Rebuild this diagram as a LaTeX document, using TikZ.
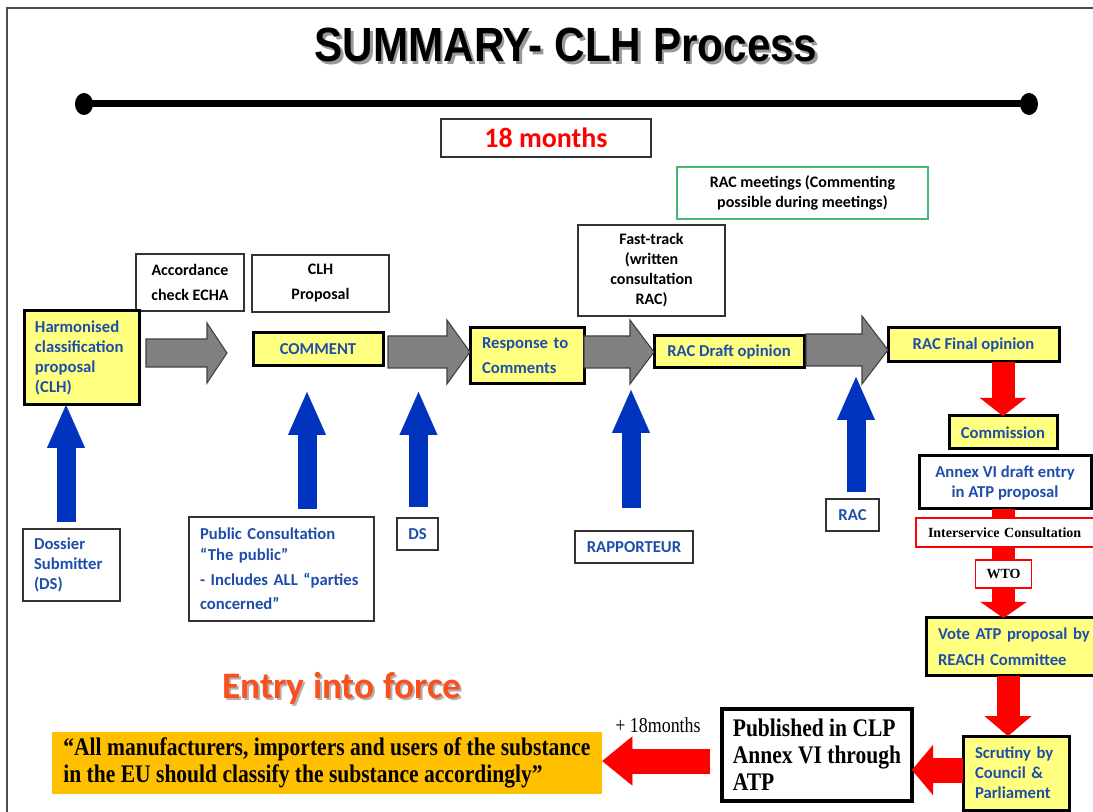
\documentclass[tikz,border=0pt]{standalone}
\usepackage{fontspec}
\setmainfont{Carlito}
\newfontfamily\titlefont[FakeStretch=0.88]{Liberation Sans}
\newfontfamily\timesc[FakeStretch=0.84]{Liberation Serif}
\newfontfamily\timescb[FakeStretch=0.85]{Liberation Serif Bold}
\newfontfamily\timesn{Liberation Serif}
\usetikzlibrary{arrows.meta,calc}
\definecolor{tblue}{RGB}{31,78,170}
\definecolor{ablue}{RGB}{0,51,190}
\definecolor{pyellow}{RGB}{255,255,128}
\definecolor{orng}{RGB}{255,192,0}
\definecolor{grn}{RGB}{70,185,110}
\definecolor{entryc}{RGB}{250,80,30}
\definecolor{garrow}{RGB}{128,128,128}
\newcommand\shadowtext[3]{\makebox[0pt][l]{\hspace{#1}\raisebox{-#1}[0pt][0pt]{\textcolor{#2}{#3}}}#3}
\tikzset{
  base/.style={inner sep=0pt, outer sep=0pt, font=\bfseries\fontsize{12.5}{15}\selectfont},
  sz/.style 2 args={minimum width=#1*0.75pt, minimum height=#2*0.75pt},
  ybox/.style={base, draw=black, line width=2.25pt, fill=pyellow, text=tblue},
  wbox/.style={base, draw=black!80, line width=1.1pt, fill=white},
  btext/.style={font=\bfseries\fontsize{12}{15}\selectfont},
  lbox/.style={wbox, text=tblue},
  rbox/.style={base, draw=red, line width=1.1pt, fill=white, font=\timesn\bfseries\fontsize{10.5}{12}\selectfont},
  bluearr/.style={draw=ablue, line width=14.25pt, -{Triangle[width=28.5pt,length=32.25pt,line width=0.1pt]}},
  redarr/.style n args={3}{draw=red, line width=#1, -{Triangle[width=#2,length=#3,line width=0.1pt]}},
  grayarr/.style={fill=garrow, draw=black!75, line width=0.8pt, line join=miter},
  bigquote/.style={font=\timescb\fontsize{19}{20.25}\selectfont},
}
\newcommand\grayarrow[6]{\draw[grayarr] (#1,#4-#5) -- (#2,#4-#5) -- (#2,#4-#6) -- (#3,#4) -- (#2,#4+#6) -- (#2,#4+#5) -- (#1,#4+#5) -- cycle;}
\begin{document}
\begin{tikzpicture}[x=0.75pt,y=-0.75pt]
\useasboundingbox[fill=white] (0,0) rectangle (1093,812);
% frame
\draw[line width=1.5pt, black!70] (6.5,812) -- (6.5,8.5) -- (1093,8.5);
% title
\node[font=\titlefont\bfseries\fontsize{36}{40}\selectfont] (title) at (566,45) {\shadowtext{2pt}{black!40}{SUMMARY- CLH Process}};
% timeline
\coordinate (tlL) at (84,104);
\coordinate (tlR) at (1029,104);
\draw[line width=5.25pt] (tlL) -- (tlR);
\fill (tlL) ellipse [x radius=6.75pt, y radius=8.25pt];
\fill (tlR) ellipse [x radius=6.75pt, y radius=8.25pt];
\node[wbox, sz={210}{38}, text=red, font=\bfseries\fontsize{21}{24}\selectfont] (m18) at (546,138) {18 months};
% top boxes
\node[wbox, draw=grn, line width=1.3pt, sz={251}{52}, align=center, btext] (racm) at (802.5,193) {RAC meetings (Commenting\\possible during meetings)};
\node[wbox, sz={147}{91}, align=center, btext] (fast) at (651.5,270.5) {Fast-track\\(written\\consultation\\RAC)};
\node[wbox, sz={108}{57}, align=center, font=\bfseries\fontsize{12}{18.75}\selectfont] (acc) at (190,282.5) {Accordance\\check ECHA};
\node[wbox, sz={137}{57}, align=center, font=\bfseries\fontsize{12}{18.75}\selectfont] (clhp) at (320.5,283.5) {CLH\\Proposal};
% main row
\node[ybox, sz={115}{94}, align=left, text width=69.75pt, inner xsep=8.25pt] (hcp) at (81.5,358) {Harmonised\\classification\\proposal\\(CLH)};
\node[ybox, sz={130}{33}] (com) at (318,349.5) {COMMENT};
\node[ybox, sz={114}{56}, align=left, text width=67.5pt, inner xsep=9pt, font=\bfseries\fontsize{12.5}{18.75}\selectfont] (resp) at (527,356) {Response to\\Comments};
\node[ybox, sz={150}{32}] (draft) at (729,352) {RAC Draft opinion};
\node[ybox, sz={171}{34}] (final) at (973.5,345) {RAC Final opinion};
\grayarrow{146}{207}{227}{353}{14}{30}
\grayarrow{388}{447}{470}{352}{16}{32}
\grayarrow{584}{630}{654}{352}{16}{32}
\grayarrow{806}{862}{888}{350}{16}{34}
% bottom labels
\node[lbox, sz={97}{72}, align=left, text width=56.25pt, inner xsep=8.25pt] (ds1) at (71.5,565) {Dossier\\Submitter\\(DS)};
\node[lbox, sz={185}{104}, align=left, text width=122.25pt, inner xsep=8.25pt, font=\bfseries\fontsize{12.5}{15.75}\selectfont] (pub) at (281.5,569) {Public Consultation\\“The public”\\[3pt]- Includes ALL “parties\\[2.25pt]concerned”};
\node[lbox, sz={41}{32}] (ds2) at (417.5,534) {DS};
\node[lbox, sz={118}{32}] (rapp) at (634,547) {RAPPORTEUR};
\node[lbox, sz={53}{32}] (rac) at (852.5,515) {RAC};
% blue arrows
\coordinate (a1s) at (66,522);
\coordinate (a2s) at (307,509);  \coordinate (a2t) at (307,392);
\coordinate (a3s) at (418.5,507); \coordinate (a3t) at (418.5,392);
\coordinate (a4s) at (631,508);  \coordinate (a4t) at (631,390);
\coordinate (a5s) at (856,492);  \coordinate (a5t) at (856,377);
\draw[bluearr] (a1s) -- (a1s |- hcp.south);
\draw[bluearr] (a2s) -- (a2t);
\draw[bluearr] (a3s) -- (a3t);
\draw[bluearr] (a4s) -- (a4t);
\draw[bluearr] (a5s) -- (a5t);
% right column
\node[ybox, sz={108}{33}] (commis) at (1003,432.5) {Commission};
\node[wbox, draw=black, line width=2.25pt, text=tblue, sz={172}{53}, align=center] (annex) at (1005,482.5) {Annex VI draft entry\\in ATP proposal};
\node[ybox, anchor=west, minimum height=43.5pt, text width=140pt, inner xsep=9pt, align=left, font=\bfseries\fontsize{12.5}{19.5}\selectfont] (vote) at (926,647) {Vote ATP proposal by\\REACH Committee};
\draw[redarr={17.25pt}{34.5pt}{13.5pt}] (commis.north |- final.south) -- (commis.north);
\coordinate (chx) at (1003.5,0);
\draw[redarr={17.25pt}{34.5pt}{12pt}] (chx |- annex.south) -- (chx |- vote.north);
\node[rbox, anchor=west, minimum height=21.75pt, text width=130pt, inner xsep=9pt, align=left] (inter) at (916,532.5) {Interservice Consultation};
\node[rbox, sz={56}{28}] (wto) at (1003.5,574) {WTO};
\node[ybox, sz={106}{74}, align=left, text width=61.5pt, inner xsep=9pt] (scrut) at (1016,773) {Scrutiny by\\Council \&\\Parliament};
\coordinate (r2x) at (1008,0);
\draw[redarr={17.25pt}{35.25pt}{15pt}] (r2x |- vote.south) -- (r2x |- scrut.north);
% bottom row
\node[wbox, draw=black, line width=3pt, sz={190}{92}, align=left, bigquote, text=black] (publ) at (817,755) {Published in CLP\\Annex VI through\\ATP};
\node[fill=orng, inner sep=0pt, sz={550}{62}, align=left, bigquote] (quote) at (327,763) {“All manufacturers, importers and users of the substance\\in the EU should classify the substance accordingly”};
\coordinate (r3y) at (0,770);
\draw[redarr={18.75pt}{37.5pt}{15.75pt}] (scrut.west |- r3y) -- (publ.east |- r3y);
\coordinate (r4s) at (710,761);
\draw[redarr={18.75pt}{36.75pt}{22.5pt}] (r4s) -- (quote.east |- r4s);
\node[font=\timesc\fontsize{16}{18}\selectfont] (plus) at (658,725) {+ 18months};
\node[font=\bfseries\fontsize{28}{32}\selectfont, text=entryc] (entry) at (342,688) {\shadowtext{1.5pt}{black!30}{Entry into force}};
\end{tikzpicture}
\end{document}
